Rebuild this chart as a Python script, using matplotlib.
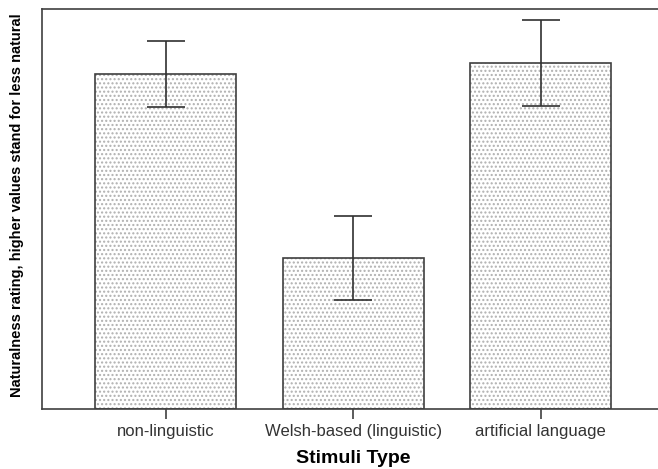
import matplotlib
matplotlib.use("Agg")
import matplotlib.pyplot as plt
import numpy as np

plt.rcParams['font.family'] = ['Liberation Sans', 'DejaVu Sans']

categories = ["non-linguistic", "Welsh-based (linguistic)", "artificial language"]
means = [3.35, 1.51, 3.46]
errors = [0.33, 0.415, 0.43]

fig = plt.figure(figsize=(6.58, 4.69), dpi=100)
ax = fig.add_axes([42 / 658, 1 - 409 / 469, 1.01 - 42 / 658, 400 / 469])

x = np.arange(len(categories))

# dotted fill first, then the dark outline on top
plt.rcParams['hatch.linewidth'] = 1.0
ax.bar(x, means, width=0.75, color="white", edgecolor="#b0b0b0",
       hatch="....", linewidth=0)
ax.bar(x, means, width=0.75, fill=False, edgecolor="#404040", linewidth=1.2)
ax.errorbar(x, means, yerr=errors, fmt="none", ecolor="#303030",
            elinewidth=1.2, capsize=14, capthick=1.2)

ax.set_xlim(-0.66, 2.66)
ax.set_ylim(0, 4.0)
ax.set_yticks([])
ax.set_xticks(x)
ax.set_xticklabels(categories, fontsize=12, color="#333333")
ax.tick_params(axis="x", length=7, width=1.2, color="#404040", pad=4)
for side in ["left", "bottom", "top", "right"]:
    ax.spines[side].set_color("#404040")
    ax.spines[side].set_linewidth(1.2)

ax.set_xlabel("Stimuli Type", fontsize=14, fontweight="bold", labelpad=8)
ax.set_ylabel("Naturalness rating, higher values stand for less natural",
              fontsize=10.5, fontweight="bold")
ax.yaxis.set_label_coords(-0.029, 0.51)

fig.savefig("out.png", dpi=100)
